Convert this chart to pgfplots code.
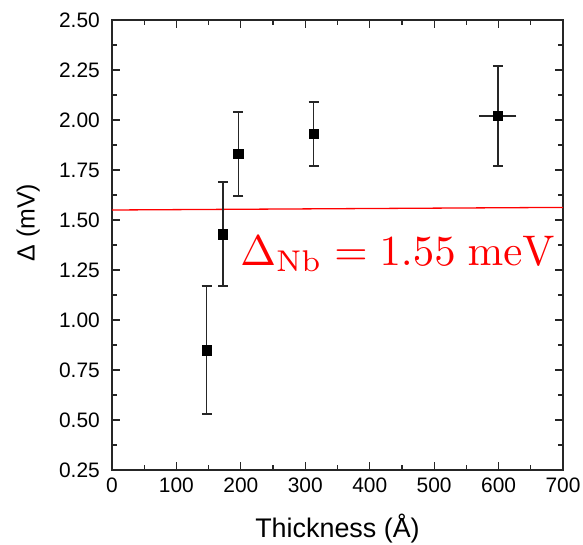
\documentclass[border=0pt]{standalone}
\usepackage[no-math]{fontspec}
\setmainfont{Liberation Sans}
\usepackage{graphicx}
\usepackage{pgfplots}
\pgfplotsset{compat=1.18}
\pgfplotstableread{
x y ey
147 0.85 0.32
172 1.43 0.26
196 1.83 0.21
313 1.93 0.16
599 2.02 0.25
}\datatab
\begin{document}
\begin{tikzpicture}
\begin{axis}[
  scale only axis, width=451bp, height=450bp,
  xmin=0, xmax=700, ymin=0.25, ymax=2.5,
  xtick={0,100,200,300,400,500,600,700},
  ytick={0.25,0.5,0.75,1,1.25,1.5,1.75,2,2.25,2.5},
  minor x tick num=1, minor y tick num=1,
  major tick length=8bp, minor tick length=5bp,
  axis line style={line width=1.3bp, black!85},
  every tick/.style={line width=1.2bp, black!85},
  /pgf/number format/assume math mode=true,
  xticklabel style={font=\fontsize{21}{24}\selectfont, inner sep=0pt, yshift=-8bp},
  yticklabel style={font=\fontsize{21}{24}\selectfont, inner sep=0pt, xshift=-12bp,
    /pgf/number format/fixed, /pgf/number format/fixed zerofill, /pgf/number format/precision=2},
  xlabel={Thickness (Å)},
  ylabel={Δ (mV)},
  xlabel style={font=\fontsize{27}{30}\selectfont, anchor=base, at={(axis description cs:0.5,-0.151)}},
  ylabel style={font=\fontsize{25}{28}\selectfont, anchor=center, at={(axis description cs:-0.186,0.55)}},
]
\addplot[red, line width=1.3bp] coordinates {(0,1.55) (700,1.563)};
\addplot[only marks, mark=square*, mark size=4.7bp, black,
  error bars/.cd, y dir=both, y explicit,
  error bar style={line width=1.4bp, black!85},
  error mark options={rotate=90, mark size=5bp, line width=1.4bp, black!85}]
  table[x=x, y=y, y error=ey] {\datatab};
\addplot[only marks, mark=square*, mark size=4.7bp, black,
  error bars/.cd, x dir=both, x explicit,
  error bar style={line width=1.4bp, black!85},
  error mark options={mark size=5bp, line width=1.4bp, black!85}]
  coordinates {(599,2.02) +- (21,0)};
\node[red, anchor=base west, inner sep=0pt, font=\fontsize{10}{12}\selectfont]
  at (axis cs:199,1.275) {\scalebox{4.3}{$\Delta_{\mathrm{Nb}} = 1.55\ \mathrm{meV}$}};
\end{axis}
\pgfresetboundingbox
\path ([shift={(-112bp,-75bp)}]current axis.south west) rectangle ([shift={(20bp,20bp)}]current axis.north east);
\end{tikzpicture}
\end{document}
